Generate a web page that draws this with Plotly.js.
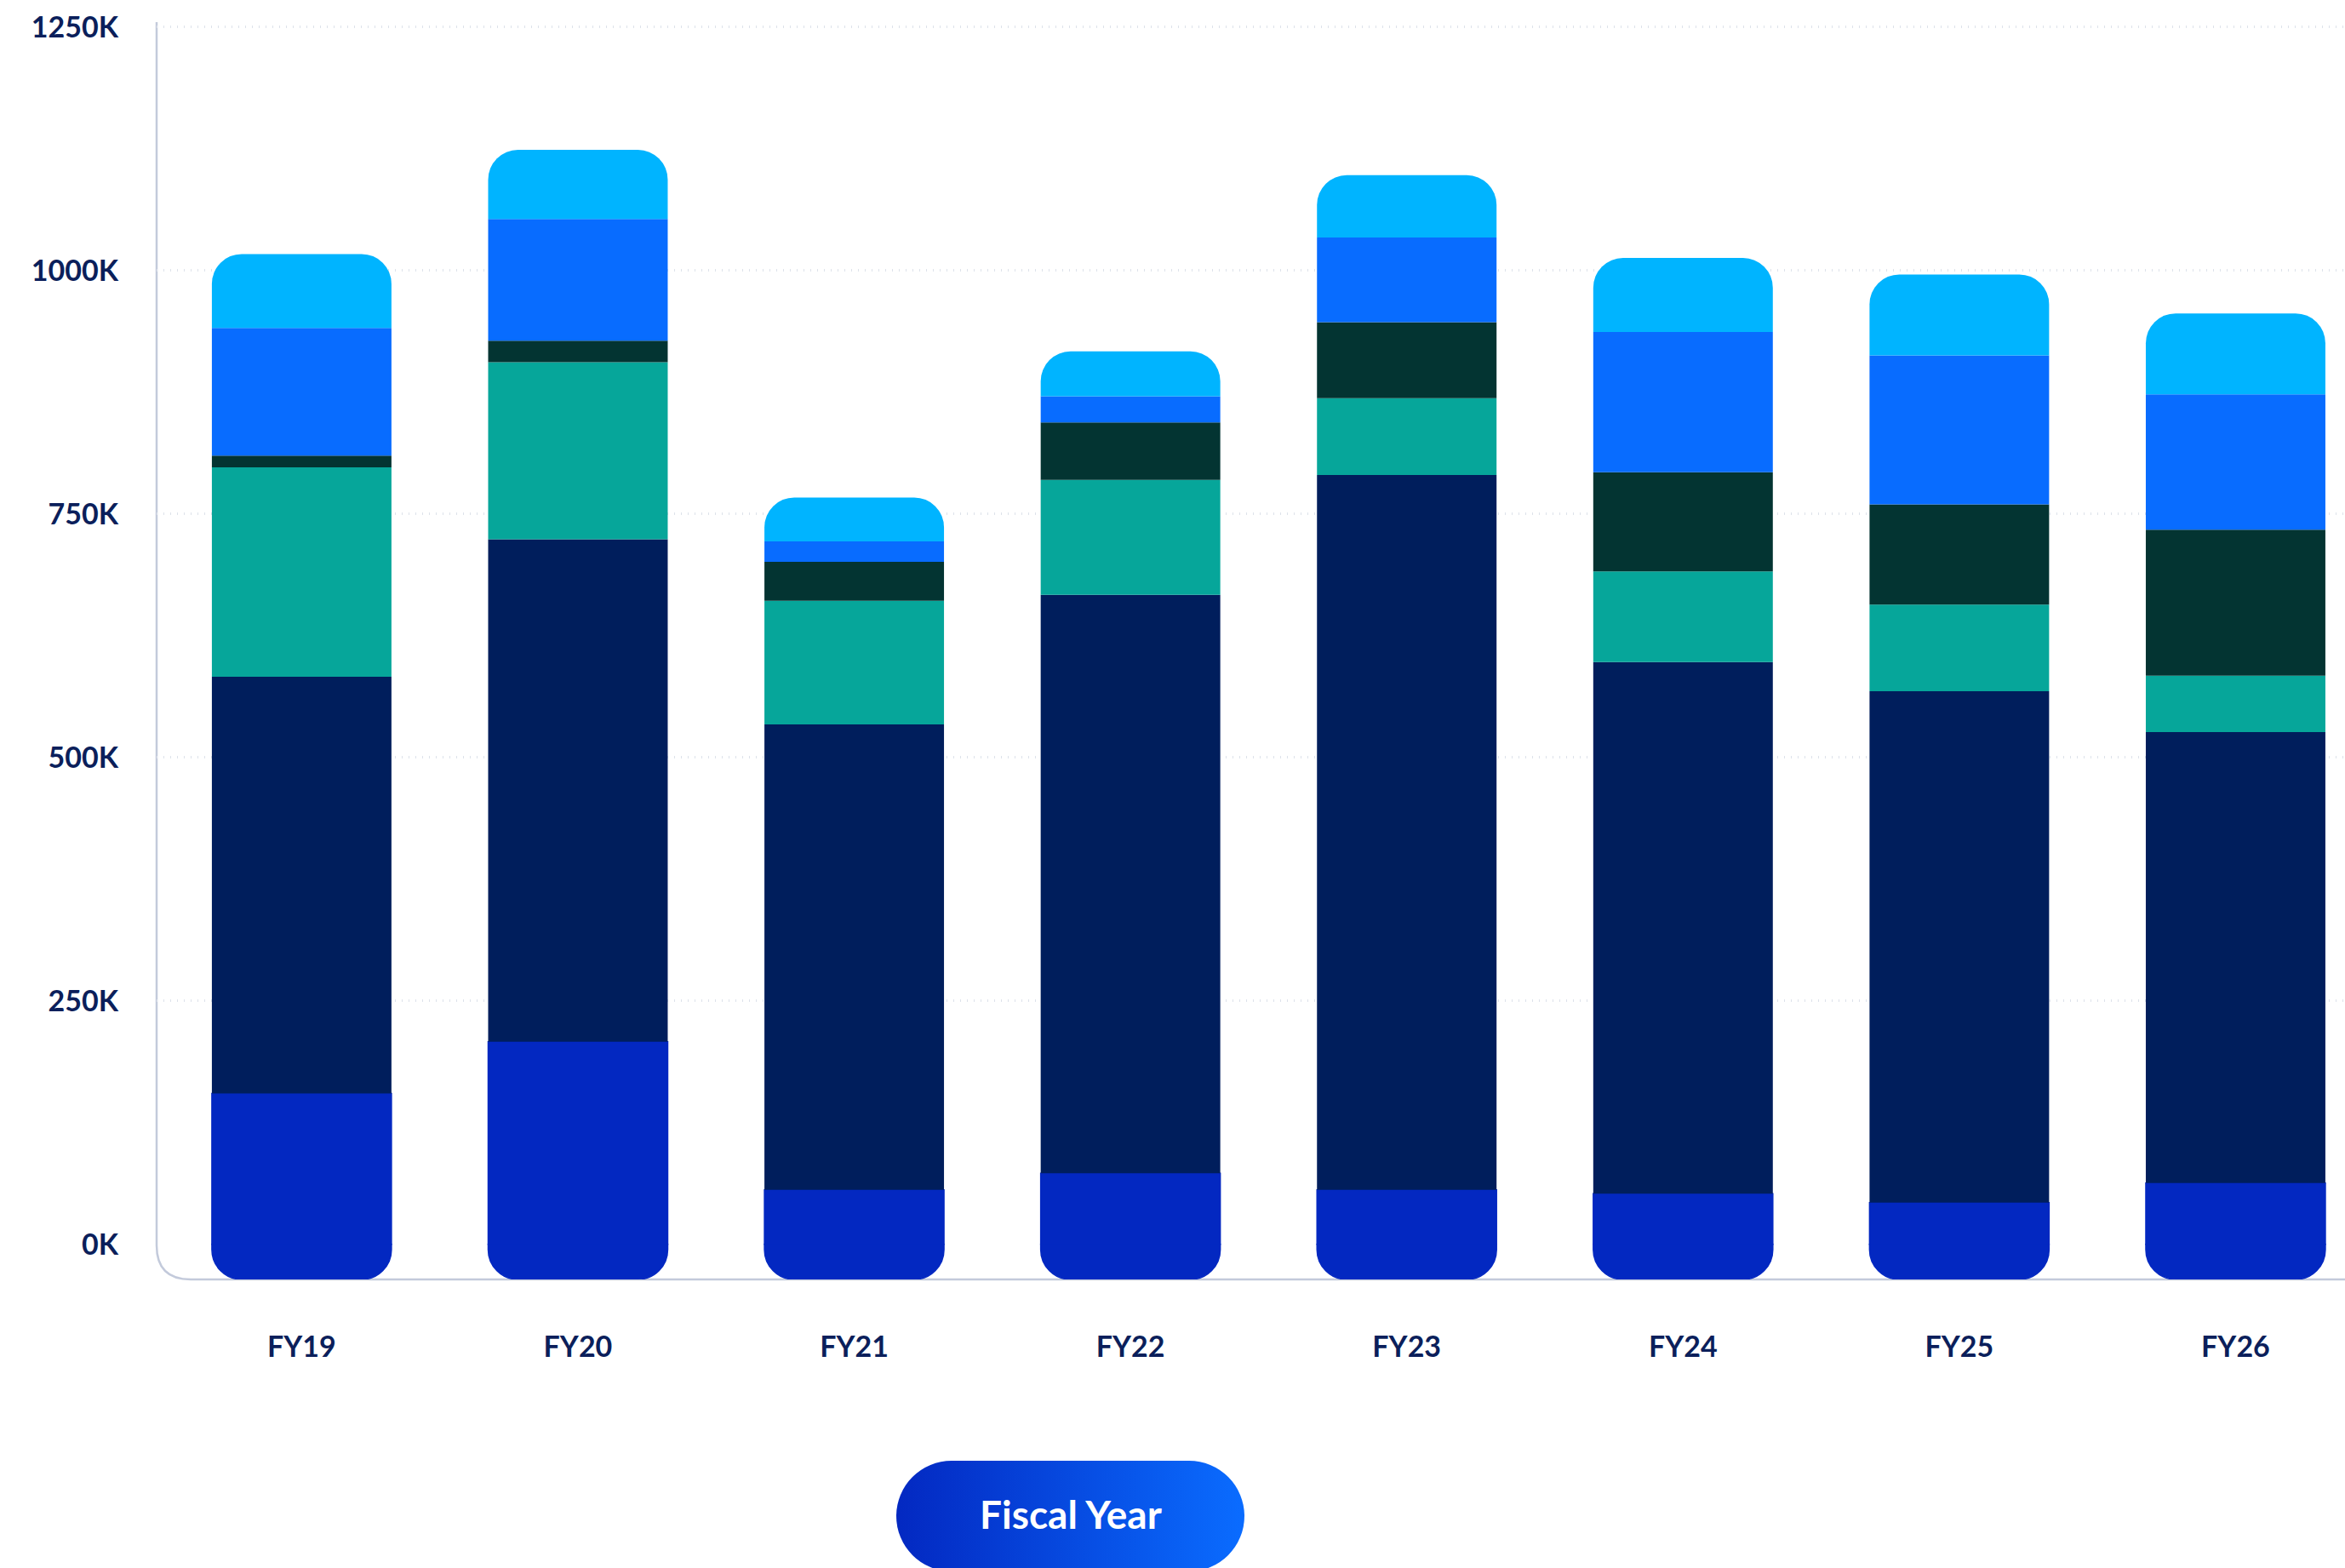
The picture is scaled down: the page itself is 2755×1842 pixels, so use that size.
<!DOCTYPE html>
<html>
<head>
<meta charset="utf-8">
<script src="https://cdn.plot.ly/plotly-3.0.1.min.js"></script>
<style>
  html, body { margin: 0; padding: 0; background: #ffffff; }
  #chart { width: 2755px; height: 1842px; }
</style>
</head>
<body>
<div id="chart"></div>
<script>
// ---------- DATA (values in thousands) ----------
const categories = ["FY19", "FY20", "FY21", "FY22", "FY23", "FY24", "FY25", "FY26"];
const seriesRoyal = [155, 208, 56, 73, 56, 52, 43, 63];
const seriesNavy  = [428, 516, 478, 594, 734, 546, 525, 463];
const seriesTeal  = [215, 182, 127, 118, 79, 93, 89, 58];
const seriesDark  = [12, 22, 40, 59, 78, 102, 103, 150];
const seriesBlue  = [131, 125, 21, 27, 87, 144, 153, 139];
const seriesCyan  = [76, 71, 45, 46, 64, 76, 83, 83];
const yTickVals   = [0, 250, 500, 750, 1000, 1250];
const yTickText   = ["0K", "250K", "500K", "750K", "1000K", "1250K"];

// ---------- STYLE ----------
const COLORS = {
  royal: "#0328C1", navy: "#001E5C", teal: "#06A69A",
  dark: "#033432", blue: "#086CFF", cyan: "#00B4FF"
};
const BOTTOM_PAD = 36; // decorative rounded foot below the zero line (style only)
const FONT = "Lato, 'Open Sans', sans-serif";
const TEXT_COLOR = "#0B1F5B";

function barTrace(name, values, color, lineW) {
  return {
    type: "bar", name: name, x: categories, y: values,
    marker: { color: color, line: { width: lineW || 0, color: color } },
    hoverinfo: "skip", showlegend: false
  };
}

const traces = [
  barTrace("foot", categories.map(() => -BOTTOM_PAD), COLORS.royal, 1.5),
  barTrace("Series 1", seriesRoyal, COLORS.royal, 1.5),
  barTrace("Series 2", seriesNavy, COLORS.navy),
  barTrace("Series 3", seriesTeal, COLORS.teal),
  barTrace("Series 4", seriesDark, COLORS.dark),
  barTrace("Series 5", seriesBlue, COLORS.blue),
  barTrace("Series 6", seriesCyan, COLORS.cyan)
];

// plot area geometry (px)
const W = 2755, H = 1842;
const M = { l: 184, r: 0, t: 25, b: 339 };
const plotW = W - M.l - M.r, plotH = H - M.t - M.b;
const px2x = px => (px - M.l) / plotW;
const py2y = py => (H - M.b - py) / plotH;

// rounded L-shaped axis frame
const R = 40;
const rx = R / plotW, ry = R / plotH;
const framePath = `M 0 ${py2y(26)} L 0 ${ry} Q 0 0 ${rx} 0 L 1 0`;

// gradient pill for the axis title
const pillW = 409, pillH = 130;
const pillSvg = `<svg xmlns='http://www.w3.org/2000/svg' width='${pillW}' height='${pillH}' viewBox='0 0 ${pillW} ${pillH}'>` +
  `<defs><linearGradient id='g' x1='0' y1='0' x2='1' y2='0'>` +
  `<stop offset='0' stop-color='#0328C1'/><stop offset='1' stop-color='#0A6CFF'/></linearGradient></defs>` +
  `<rect x='0' y='0' width='${pillW}' height='${pillH}' rx='${pillH / 2}' ry='${pillH / 2}' fill='url(#g)'/></svg>`;
const pillUri = "data:image/svg+xml;charset=utf-8," + encodeURIComponent(pillSvg);

const layout = {
  width: W, height: H,
  margin: M,
  paper_bgcolor: "#ffffff", plot_bgcolor: "#ffffff",
  barmode: "relative",
  bargap: 0.35,
  barcornerradius: 35,
  showlegend: false,
  font: { family: FONT, color: TEXT_COLOR },
  xaxis: {
    type: "category",
    range: [-0.525, 7.396],
    showline: false, showgrid: false, zeroline: false,
    ticks: "", ticklabelstandoff: 56,
    tickfont: { family: FONT, size: 34, color: TEXT_COLOR, weight: 700 }
  },
  yaxis: {
    range: [-BOTTOM_PAD, 1256],
    tickvals: yTickVals, ticktext: yTickText,
    showline: false,
    showgrid: true, gridcolor: "#DDE2EA", gridwidth: 3, griddash: "1px,7px",
    zeroline: true, zerolinecolor: "rgba(0,0,0,0)",
    ticks: "", ticklabelstandoff: 44,
    tickfont: { family: FONT, size: 34, color: TEXT_COLOR, weight: 700 }
  },
  shapes: [{
    type: "path", xref: "paper", yref: "paper", path: framePath,
    line: { color: "#C3CADB", width: 2.5 }, layer: "below"
  }],
  images: [{
    source: pillUri, xref: "paper", yref: "paper",
    x: px2x(1053), y: py2y(1716), sizex: pillW / plotW, sizey: pillH / plotH,
    xanchor: "left", yanchor: "top", sizing: "stretch", layer: "above"
  }],
  annotations: [{
    text: "Fiscal Year", xref: "paper", yref: "paper",
    x: px2x(1258), y: py2y(1778), xanchor: "center", yanchor: "middle",
    showarrow: false,
    font: { family: FONT, size: 46, color: "#ffffff", weight: 700 }
  }]
};

Plotly.newPlot("chart", traces, layout, { staticPlot: true, displayModeBar: false });
</script>
</body>
</html>
